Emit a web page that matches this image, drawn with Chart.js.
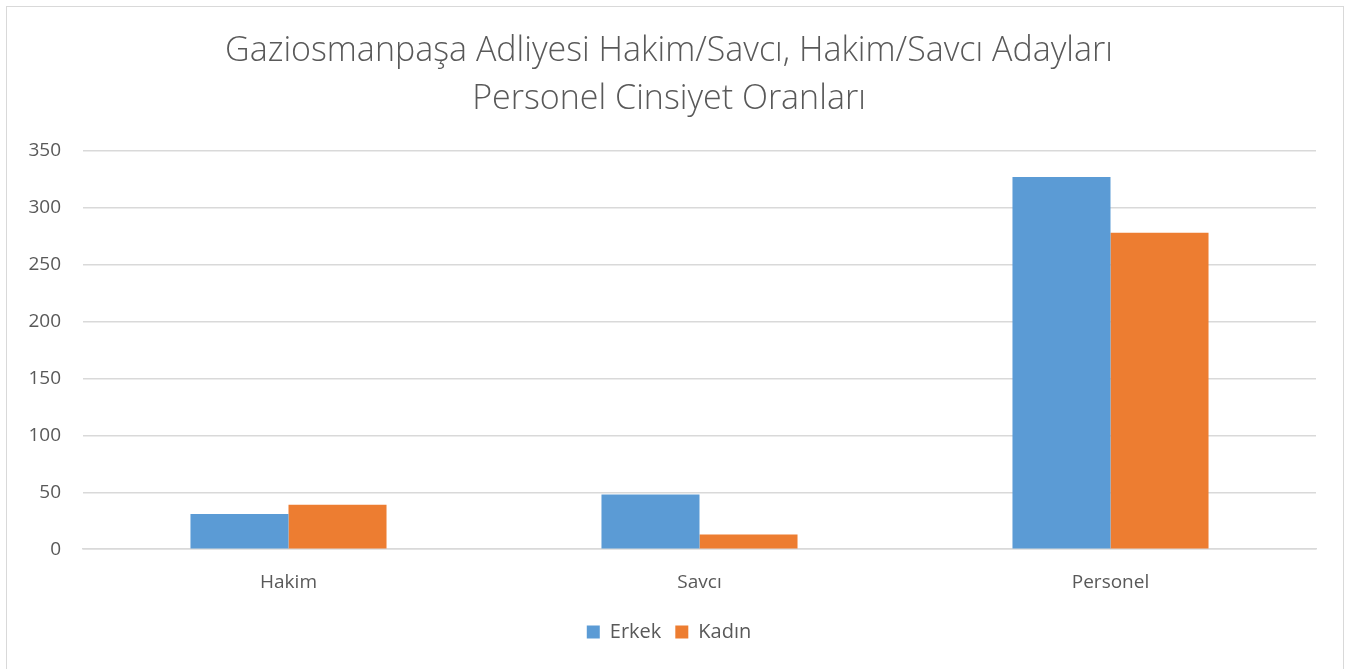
<!DOCTYPE html>
<html>
<head>
<meta charset="utf-8">
<script src="https://cdn.jsdelivr.net/npm/chart.js@4"></script>
<style>
  html, body { margin: 0; padding: 0; background: #fff; }
  #wrap { position: absolute; left: 6px; top: 6px; width: 1338px; height: 670px; border: 1px solid #d9d9d9; box-sizing: border-box; }
  #chart { position: absolute; left: 0; top: 0; }
</style>
</head>
<body>
<div id="wrap"></div>
<canvas id="chart" width="1351" height="669"></canvas>
<script>
const categories = ['Hakim', 'Savcı', 'Personel'];
const erkekValues = [31, 48, 327];
const kadinValues = [39, 13, 278];
const titleLines = ['Gaziosmanpaşa Adliyesi Hakim/Savcı, Hakim/Savcı Adayları', 'Personel Cinsiyet Oranları'];

const textColor = '#595959';
const gridColor = '#d9d9d9';

const ctx = document.getElementById('chart').getContext('2d');
new Chart(ctx, {
  type: 'bar',
  data: {
    labels: categories,
    datasets: [
      {
        label: 'Erkek',
        data: erkekValues,
        backgroundColor: '#5b9bd5'
      },
      {
        label: 'Kadın',
        data: kadinValues,
        backgroundColor: '#ed7d31'
      }
    ]
  },
  options: {
    responsive: false,
    animation: false,
    categoryPercentage: 0.477,
    barPercentage: 1,
    layout: { padding: { left: 22, right: 35, top: 17, bottom: 17 } },
    plugins: {
      title: {
        display: true,
        text: titleLines,
        color: textColor,
        font: { family: 'Open Sans', size: 34, weight: '300', lineHeight: 1.41 },
        padding: { top: 10, bottom: 28 }
      },
      legend: {
        position: 'bottom',
        labels: {
          color: textColor,
          font: { family: 'Open Sans', size: 20 },
          boxWidth: 13,
          boxHeight: 13,
          padding: 14
        }
      },
      tooltip: { enabled: false }
    },
    scales: {
      x: {
        grid: { display: false },
        border: { color: gridColor, width: 1.5 },
        ticks: { color: textColor, font: { family: 'Open Sans', size: 19 }, padding: 14 }
      },
      y: {
        min: 0,
        max: 350,
        afterFit: (axis) => { axis.width = 61; },
        ticks: { stepSize: 50, color: textColor, font: { family: 'Open Sans', size: 19 }, padding: 22 },
        grid: { color: gridColor, lineWidth: 1.5, drawTicks: false },
        border: { display: false }
      }
    }
  }
});
</script>
</body>
</html>
